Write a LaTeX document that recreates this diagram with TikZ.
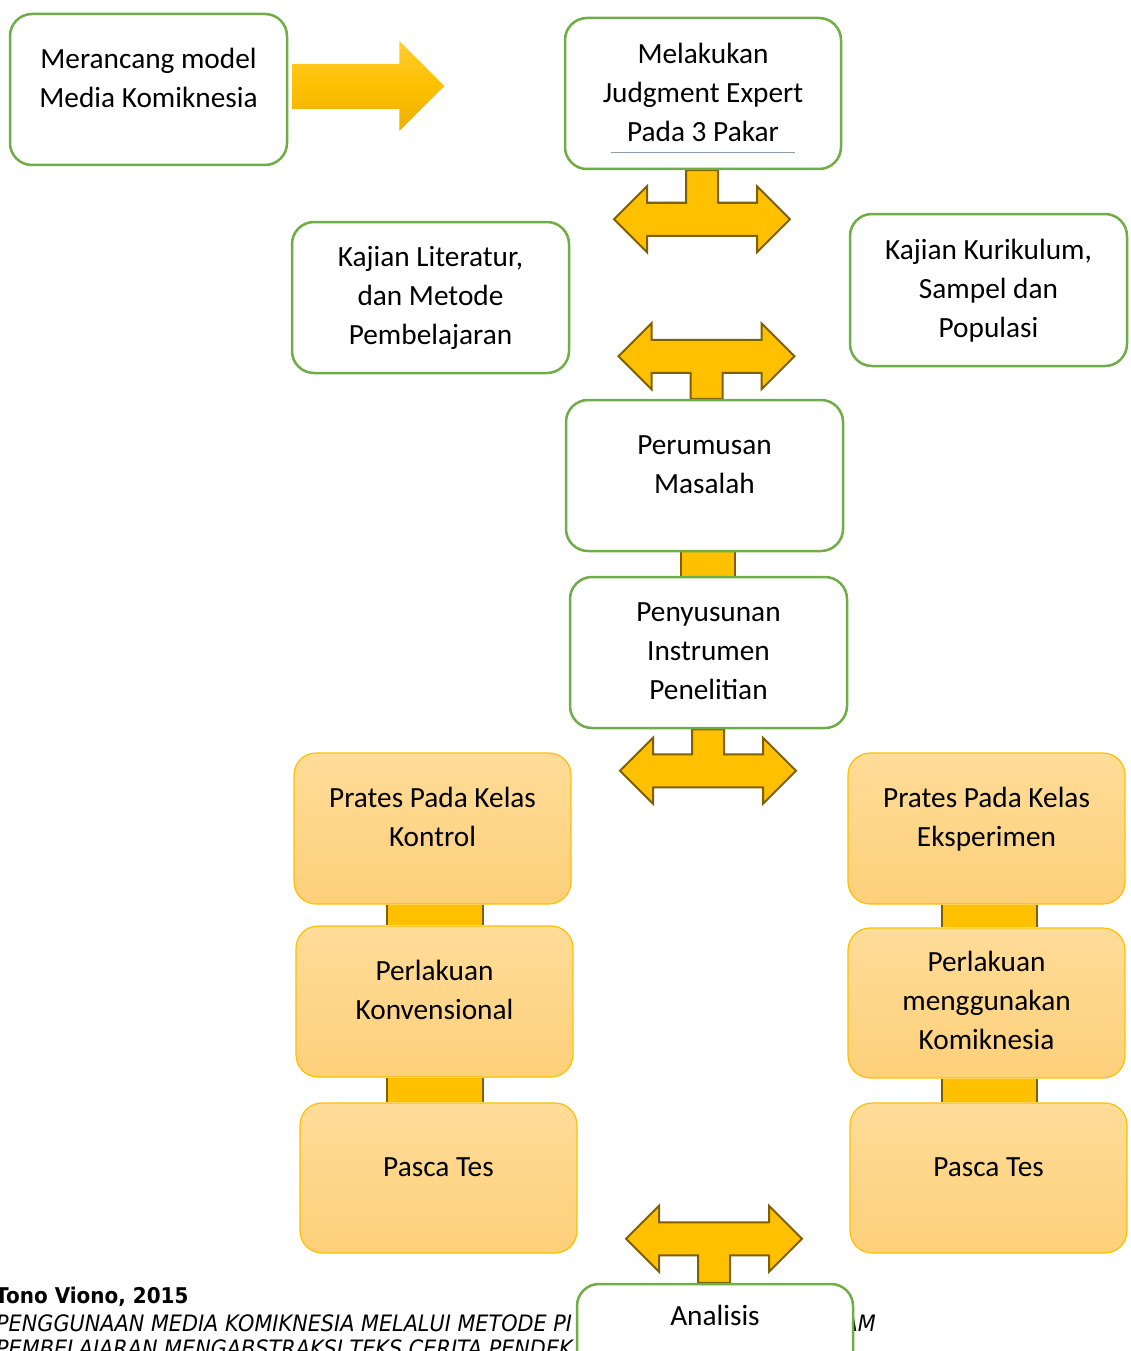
\documentclass[tikz,border=0pt]{standalone}
\usepackage{fontspec}
\setmainfont{Carlito}
\newfontfamily\tah[FakeStretch=0.92]{DejaVu Sans}
\usetikzlibrary{calc}
\definecolor{boxgreen}{HTML}{70AD47}
\definecolor{gold}{HTML}{FFC000}
\definecolor{brownline}{HTML}{7F6000}
\definecolor{olight}{HTML}{FFDC98}
\definecolor{odark}{HTML}{FDD07A}
\definecolor{thinline}{HTML}{8A9BB5}
\newcommand\lstrut{\rule[-10pt]{0pt}{39pt}}
\pgfdeclarelayer{bg}
\pgfsetlayers{bg,main}
\tikzset{
  gbox/.style={rectangle, rounded corners=22pt, draw=boxgreen, line width=2.5pt, fill=white,
    minimum width=277pt, minimum height=151pt, inner sep=0pt},
  obox/.style={rectangle, rounded corners=22pt, draw=gold, line width=1.2pt,
    top color=olight, bottom color=odark, minimum width=277pt, minimum height=151pt, inner sep=0pt},
  txt/.style={align=center, inner sep=0pt, font=\fontsize{29.3}{39}\selectfont},
  arr/.style={fill=gold, draw=brownline, line width=2pt, line join=miter},
  side/.style={draw=brownline, line width=2pt},
  pics/tarrow/.style={code={
    \filldraw[arr] (-16,-#1) -- (-16,-16.5) -- (-55,-16.5) -- (-55,-33) -- (-88,0) -- (-55,33)
      -- (-55,16.5) -- (55,16.5) -- (55,33) -- (88,0) -- (55,-33) -- (55,-16.5) -- (16,-16.5)
      -- (16,-#1) -- cycle;}},
  foot/.style={inner sep=0pt, font=\tah\fontsize{22.6}{26}\selectfont\itshape},
}
\begin{document}
\begin{tikzpicture}[x=1pt, y=-1pt]
\useasboundingbox (0,0) rectangle (1130,1351);
\clip (0,0) rectangle (1130,1351);

% boxes
\node[gbox] (b1) at (148.5,89.5) {};
\node[gbox, minimum width=276pt] (b2) at (703,93.5) {};
\node[gbox] (b3) at (430.5,297.5) {};
\node[gbox, minimum height=152pt] (b4) at (988.5,290) {};
\node[gbox] (b5) at (704.5,475.5) {};
\node[gbox] (b6) at (708.5,652.5) {};
\node[obox] (b7) at (432.5,828.5) {};
\node[obox] (b8) at (434.5,1001.5) {};
\node[obox, minimum height=150pt] (b9) at (438.5,1178) {};
\node[obox] (b10) at (986.5,828.5) {};
\node[obox, minimum height=150pt] (b11) at (986.5,1003) {};
\node[obox, minimum height=150pt] (b12) at (988.5,1178) {};
\node[gbox, minimum width=276pt] (b13) at (715,1359.5) {};

% texts
\node[txt] (t1) at ($(b1.center)+(0,-11)$) {Merancang model\lstrut\\Media Komiknesia\lstrut};
\node[txt] (t2) at ($(b2.center)+(0,-0.8)$) {Melakukan\lstrut\\Judgment Expert\lstrut\\Pada 3 Pakar\lstrut};
\node[txt] (t3) at ($(b3.center)+(0,-1.2)$) {Kajian Literatur,\lstrut\\dan Metode\lstrut\\Pembelajaran\lstrut};
\node[txt] (t4) at ($(b4.center)+(0,-0.7)$) {Kajian Kurikulum,\lstrut\\Sampel dan\lstrut\\Populasi\lstrut};
\node[txt] (t5) at ($(b5.center)+(0,-11)$) {Perumusan\lstrut\\Masalah\lstrut};
\node[txt] (t6) at ($(b6.center)+(0,-1.2)$) {Penyusunan\lstrut\\Instrumen\lstrut\\Penelitian\lstrut};
\node[txt] (t7) at ($(b7.center)+(0,-11)$) {Prates Pada Kelas\lstrut\\Kontrol\lstrut};
\node[txt] (t8) at ($(b8.center)+(0,-11.5)$) {Perlakuan\lstrut\\Konvensional\lstrut};
\node[txt] (t9) at ($(b9.center)+(0,-11)$) {Pasca Tes\lstrut};
\node[txt] (t10) at ($(b10.center)+(0,-11)$) {Prates Pada Kelas\lstrut\\Eksperimen\lstrut};
\node[txt] (t11) at ($(b11.center)+(0,-2)$) {Perlakuan\lstrut\\menggunakan\lstrut\\Komiknesia\lstrut};
\node[txt] (t12) at ($(b12.center)+(0,-11)$) {Pasca Tes\lstrut};
\node[txt] (t13) at ($(b13.north)+(0,33)$) {Analisis\lstrut};

% thin line in b2
\draw[thinline, line width=1pt] ($(b2.south)+(-92,-18)$) -- ($(b2.south)+(92,-18)$);

\begin{pgfonlayer}{bg}
  % footer text
  \node[foot, font=\tah\fontsize{21.7}{26}\selectfont\bfseries, anchor=base west] (f1) at (-5,1303) {Tono Viono, 2015};
  \node[foot, anchor=base west] (f2) at (-4,1331) {PENGGUNAAN MEDIA KOMIKNESIA MELALUI METODE PI};
  \node[foot, anchor=base east] (f3) at (876,1331) {AM};
  \node[foot, anchor=base west] (f4) at (-4,1356) {PEMBELAJARAN MENGABSTRAKSI TEKS CERITA PENDEK};

  % big arrow
  \begin{scope}[shift={(b1.east)}]
    \path[top color=gold!80!white, bottom color=gold!92!black, middle color=gold]
      (4,-25.5) -- (111,-25.5) -- (111,-48.5) -- (156,-3.5) -- (111,41.5) -- (111,19.5) -- (4,19.5) -- cycle;
  \end{scope}

  % T arrows
  \pic at ($(b2.south)+(-1,49)$) {tarrow=49};
  \pic[yscale=-1] at ($(b5.north)+(2,-42.5)$) {tarrow=42.5};
  \pic at ($(b6.south)+(-0.5,41.5)$) {tarrow=41.5};
  \pic[yscale=-1] at ($(b13.north)+(-1,-44)$) {tarrow=44};

  % connectors
  \coordinate (c1a) at ($(b5.south)+(-23.5,0)$);
  \coordinate (c1b) at ($(b6.north)+(26.5,0)$);
  \coordinate (c2a) at ($(b7.south)+(-45.5,0)$);
  \coordinate (c2b) at ($(b8.north)+(48.5,0)$);
  \coordinate (c3a) at ($(b8.south)+(-47.5,0)$);
  \coordinate (c3b) at ($(b9.north)+(44.5,0)$);
  \coordinate (c4a) at ($(b10.south)+(-44.5,0)$);
  \coordinate (c4b) at ($(b11.north)+(50.5,0)$);
  \coordinate (c5a) at ($(b11.south)+(-44.5,0)$);
  \coordinate (c5b) at ($(b12.north)+(48.5,0)$);
  \foreach \a/\b in {c1a/c1b, c2a/c2b, c3a/c3b, c4a/c4b, c5a/c5b}{
    \fill[gold] (\a) rectangle (\b);
    \draw[side] (\a) -- (\a |- \b);
    \draw[side] (\b) -- (\b |- \a);
  }
\end{pgfonlayer}
\end{tikzpicture}
\end{document}
